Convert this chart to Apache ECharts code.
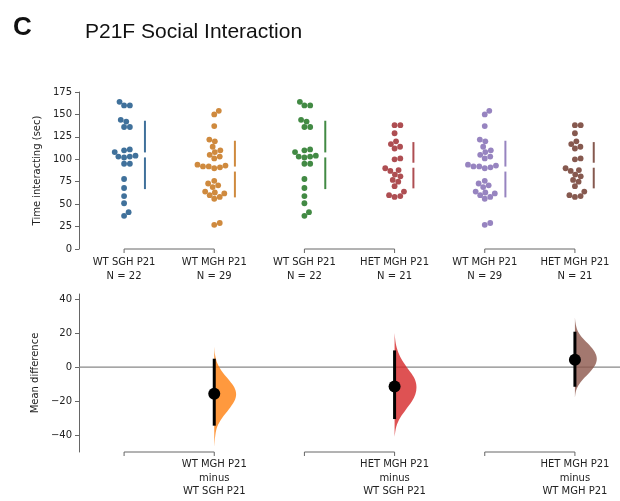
<!DOCTYPE html>
<html><head><meta charset="utf-8">
<script src="https://cdn.jsdelivr.net/npm/echarts@6/dist/echarts.min.js"></script>
<style>html,body{margin:0;padding:0;background:#fff}#c{width:620px;height:501px}</style>
</head><body><div id="c"></div>
<script>
// ---------- data ----------
const groupNames = ['WT SGH P21', 'WT MGH P21', 'WT SGH P21', 'HET MGH P21', 'WT MGH P21', 'HET MGH P21'];
const wtSghValues = [164, 160, 160, 144, 142, 136, 136, 111, 110, 108, 104, 103, 103, 102, 95, 95, 78, 68, 59, 51, 41, 37];
const wtMghValues = [154, 150, 137, 122, 120, 114, 110, 108, 105, 103, 101, 94, 93, 92, 92, 91, 90, 76, 73, 71, 69, 64, 63, 62, 60, 58, 56, 29, 27];
const hetMghValues = [138, 138, 129, 120, 117, 114, 112, 101, 100, 90, 88, 87, 83, 81, 77, 75, 70, 64, 60, 59, 58];
const topYTicks = [0, 25, 50, 75, 100, 125, 150, 175];
const bottomYTicks = [-40, -20, 0, 20, 40];
const contrastPairs = [[0, 1], [2, 3], [4, 5]];
const contrastLabels = ['WT MGH P21\nminus\nWT SGH P21', 'HET MGH P21\nminus\nWT SGH P21', 'HET MGH P21\nminus\nWT MGH P21'];
const ciLow = [-34.5, -30.6, -11.6];
const ciHigh = [4.9, 9.8, 20.8];
// bootstrap distribution outlines: difference value and relative density
const violin1Diff = [12, 7, 2, -3, -8, -12, -16, -20, -25, -30, -35, -40, -47];
const violin1Dens = [0, 0.04, 0.15, 0.38, 0.7, 0.92, 1.0, 0.92, 0.66, 0.36, 0.14, 0.05, 0];
const violin2Diff = [20, 15, 10, 5, 0, -4, -8, -12, -16, -20, -25, -30, -35, -41];
const violin2Dens = [0, 0.04, 0.13, 0.3, 0.55, 0.78, 0.95, 1.0, 0.95, 0.8, 0.52, 0.25, 0.08, 0];
const violin3Diff = [29, 25, 21, 17, 13, 9, 5, 1, -3, -7, -11, -14, -18];
const violin3Dens = [0, 0.04, 0.14, 0.36, 0.66, 0.9, 1.0, 0.92, 0.68, 0.38, 0.15, 0.05, 0];

// ---------- layout / style ----------
const groupValues = [wtSghValues, wtMghValues, wtSghValues, hetMghValues, wtMghValues, hetMghValues];
const violins = [[violin1Diff, violin1Dens], [violin2Diff, violin2Dens], [violin3Diff, violin3Dens]];
const swarmColors = ['#40719b', '#cf8a3e', '#428a44', '#ae4e52', '#9784c0', '#86594f'];
const violinColors = ['rgba(255,127,14,0.8)', 'rgba(214,39,40,0.8)', 'rgba(140,86,75,0.8)'];
const GL = 79, GW = 544, TOPH = 157, BOTH = 158;
const kx = GW / 6, ky = TOPH / 175;
const FONT = 'DejaVu Sans';
const AX = '#666';

const mean = a => a.reduce((s, v) => s + v, 0) / a.length;
const sd = a => { const m = mean(a); return Math.sqrt(a.reduce((s, v) => s + (v - m) * (v - m), 0) / (a.length - 1)); };

function swarm(values, d) {
  const idx = values.map((v, i) => i).sort((a, b) => values[a] - values[b]);
  const placed = [], off = new Array(values.length);
  for (const i of idx) {
    const y = values[i] * ky;
    const cands = [0];
    for (const p of placed) {
      const dy = Math.abs(p.y - y);
      if (dy < d) { const dx = Math.sqrt(d * d - dy * dy) + 0.01; cands.push(p.x + dx, p.x - dx); }
    }
    cands.sort((a, b) => Math.abs(a) - Math.abs(b) || b - a);
    let chosen = 0;
    for (const c of cands) {
      if (placed.every(p => (p.x - c) ** 2 + (p.y - y) ** 2 >= d * d - 1e-6)) { chosen = c; break; }
    }
    placed.push({ x: chosen, y });
    off[i] = chosen / kx;
  }
  return off;
}

const series = [];
const sdData = [];
groupValues.forEach((vals, gi) => {
  const off = swarm(vals, 5.8);
  series.push({
    type: 'scatter', xAxisIndex: 0, yAxisIndex: 0, symbolSize: 5.8, silent: true, z: 3,
    itemStyle: { color: swarmColors[gi], opacity: 1 },
    data: vals.map((v, i) => [gi + off[i], v])
  });
  const maxRight = Math.max(0, ...off) * kx;
  sdData.push([gi + (maxRight + 9.5) / kx, mean(vals), sd(vals), gi]);
});

// mean ± SD lines with gap at the mean
series.push({
  type: 'custom', xAxisIndex: 0, yAxisIndex: 0, silent: true, clip: false, data: sdData,
  renderItem: (p, api) => {
    const x = api.value(0), m = api.value(1), s = api.value(2), gi = api.value(3);
    const t = api.coord([x, m + s]), c = api.coord([x, m]), b = api.coord([x, m - s]);
    const st = { stroke: swarmColors[gi], lineWidth: 2 };
    return { type: 'group', children: [
      { type: 'line', shape: { x1: t[0], y1: t[1], x2: c[0], y2: c[1] - 2.5 }, style: st },
      { type: 'line', shape: { x1: c[0], y1: c[1] + 2.5, x2: b[0], y2: b[1] }, style: st }
    ] };
  }
});

function bracketSeries(xi, yi, yLevel) {
  return {
    type: 'custom', xAxisIndex: xi, yAxisIndex: yi, silent: true, clip: false,
    data: contrastPairs.map(p => [p[0], yLevel, p[1]]),
    renderItem: (p, api) => {
      const a = api.coord([api.value(0), api.value(1)]), b = api.coord([api.value(2), api.value(1)]);
      return { type: 'polyline', shape: { points: [[a[0], a[1] + 4], [a[0], a[1]], [b[0], b[1]], [b[0], b[1] + 4]] },
        style: { stroke: AX, lineWidth: 1, fill: 'none' } };
    }
  };
}
series.push(bracketSeries(0, 0, 0));
series.push(bracketSeries(2, 1, -50));

// zero line
series.push({
  type: 'custom', xAxisIndex: 2, yAxisIndex: 1, silent: true, clip: false, z: 1,
  data: [[-0.5, 0, 5.6]],
  renderItem: (p, api) => {
    const a = api.coord([api.value(0), api.value(1)]), b = api.coord([api.value(2), api.value(1)]);
    return { type: 'line', shape: { x1: a[0], y1: a[1], x2: b[0], y2: b[1] }, style: { stroke: '#888', lineWidth: 1.2 } };
  }
});

// violins
const meanDiffs = contrastPairs.map(([c, t]) => mean(groupValues[t]) - mean(groupValues[c]));
contrastPairs.forEach(([c, t], k) => {
  const [dv, dd] = violins[k];
  series.push({
    type: 'custom', xAxisIndex: 2, yAxisIndex: 1, silent: true, clip: false, z: 2,
    data: [[t, meanDiffs[k]]],
    renderItem: (p, api) => {
      const x = api.value(0);
      const pts = dv.map((v, i) => api.coord([x + dd[i] * 22 / kx, v]));
      pts.unshift(api.coord([x, dv[0]]));
      pts.push(api.coord([x, dv[dv.length - 1]]));
      return { type: 'polygon', shape: { points: pts, smooth: 0.35 }, style: { fill: violinColors[k], stroke: 'none' } };
    }
  });
});

// CI lines
series.push({
  type: 'custom', xAxisIndex: 2, yAxisIndex: 1, silent: true, clip: false, z: 4,
  data: contrastPairs.map(([c, t], k) => [t, ciLow[k], ciHigh[k]]),
  renderItem: (p, api) => {
    const a = api.coord([api.value(0), api.value(1)]), b = api.coord([api.value(0), api.value(2)]);
    return { type: 'line', shape: { x1: a[0], y1: a[1], x2: b[0], y2: b[1] }, style: { stroke: '#000', lineWidth: 3 } };
  }
});
// mean difference dots
series.push({
  type: 'scatter', xAxisIndex: 2, yAxisIndex: 1, silent: true, z: 5, symbolSize: 12,
  itemStyle: { color: '#000', opacity: 1 },
  data: contrastPairs.map(([c, t], k) => [t, meanDiffs[k]])
});

const topLabels = groupValues.map((v, i) => groupNames[i] + '\nN = ' + v.length);
const bottomLabels = groupNames.map((n, i) => {
  const k = contrastPairs.findIndex(p => p[1] === i);
  return k >= 0 ? contrastLabels[k] : '';
});

const labelStyle = { fontFamily: FONT, fontSize: 10, color: '#222' };
function yAx(grid, min, max, ticks, name, gap) {
  return {
    gridIndex: grid, type: 'value', min, max,
    axisLine: { show: true, onZero: false, lineStyle: { color: AX, width: 1 } },
    axisTick: { show: true, length: 4, lineStyle: { color: AX }, customValues: ticks },
    axisLabel: Object.assign({ margin: 7, customValues: ticks, formatter: v => String(v).replace('-', '\u2212') }, labelStyle),
    splitLine: { show: false },
    name, nameLocation: 'middle', nameGap: gap,
    nameTextStyle: Object.assign({}, labelStyle)
  };
}

const option = {
  animation: false,
  backgroundColor: '#fff',
  title: [
    { text: 'C', left: 13, top: 15, padding: 0, textStyle: { fontFamily: 'Liberation Sans', fontSize: 26, fontWeight: 'bold', color: '#111' } },
    { text: 'P21F Social Interaction', left: 85, top: 22, padding: 0, textStyle: { fontFamily: 'Liberation Sans', fontSize: 21, fontWeight: 'normal', color: '#111' } }
  ],
  grid: [
    { left: GL, top: 92, width: GW, height: TOPH },
    { left: GL, top: 294, width: GW, height: BOTH }
  ],
  xAxis: [
    { gridIndex: 0, type: 'value', min: -0.5, max: 5.5, show: false },
    { gridIndex: 0, type: 'category', data: topLabels, position: 'bottom',
      axisLine: { show: false }, axisTick: { show: false }, splitLine: { show: false },
      axisLabel: Object.assign({ interval: 0, margin: 6, lineHeight: 14 }, labelStyle) },
    { gridIndex: 1, type: 'value', min: -0.5, max: 5.5, show: false },
    { gridIndex: 1, type: 'category', data: bottomLabels, position: 'bottom',
      axisLine: { show: false }, axisTick: { show: false }, splitLine: { show: false },
      axisLabel: Object.assign({ interval: 0, margin: 6, lineHeight: 13.5 }, labelStyle) }
  ],
  yAxis: [
    yAx(0, 0, 175, topYTicks, 'Time interacting (sec)', 24),
    yAx(1, -50, 43, bottomYTicks, 'Mean difference', 25)
  ],
  series
};
const chart = echarts.init(document.getElementById('c'), null, { renderer: 'canvas' });
chart.setOption(option);
</script></body></html>
